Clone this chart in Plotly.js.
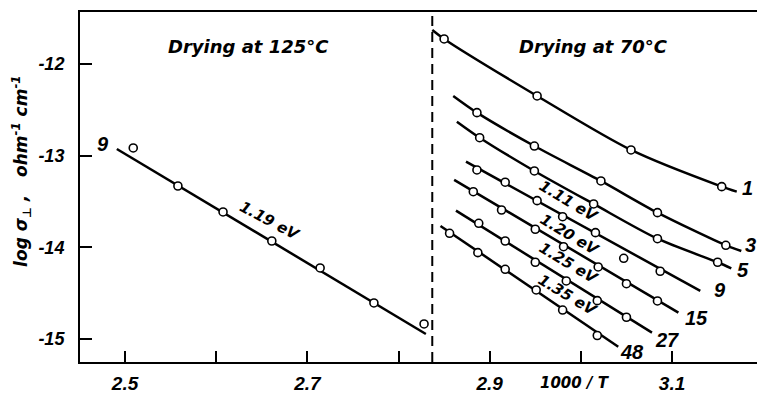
<!DOCTYPE html>
<html>
<head>
<meta charset="utf-8">
<script src="https://cdn.plot.ly/plotly-3.0.1.min.js"></script>
<style>html,body{margin:0;padding:0;background:#fff;}#chart{width:757px;height:394px;}</style>
</head>
<body>
<div id="chart"></div>
<script>
// ---- Data ----
// Drying at 125 °C, sample 9
const d125_line_x = [2.491, 2.830];
const d125_line_y = [-12.927, -14.945];
const d125_pts_x = [2.509, 2.558, 2.6075, 2.661, 2.714, 2.773, 2.828];
const d125_pts_y = [-12.916, -13.331, -13.614, -13.931, -14.225, -14.607, -14.836];

// Drying at 70 °C : fitted curves
const c1_x = [2.837, 2.850, 2.952, 3.055, 3.1545, 3.171];
const c1_y = [-11.629, -11.727, -12.349, -12.938, -13.338, -13.393];
const c3_x = [2.860, 2.886, 2.949, 3.022, 3.084, 3.159, 3.176];
const c3_y = [-12.349, -12.531, -12.895, -13.276, -13.622, -13.978, -14.040];
const c5_x = [2.864, 2.889, 2.949, 3.014, 3.084, 3.150, 3.165];
const c5_y = [-12.629, -12.804, -13.167, -13.527, -13.906, -14.163, -14.229];
const c9_x = [2.874, 3.131];
const c9_y = [-13.066, -14.476];
const c15_x = [2.861, 3.107];
const c15_y = [-13.265, -14.713];
const c27_x = [2.863, 3.078];
const c27_y = [-13.600, -14.931];
const c48_x = [2.846, 3.041];
const c48_y = [-13.767, -15.084];

// Drying at 70 °C : measured points
const p1_x = [2.850, 2.952, 3.055, 3.1545];
const p1_y = [-11.727, -12.349, -12.938, -13.338];
const p3_x = [2.886, 2.949, 3.022, 3.084, 3.159];
const p3_y = [-12.531, -12.895, -13.276, -13.622, -13.978];
const p5_x = [2.889, 2.949, 3.014, 3.084, 3.150];
const p5_y = [-12.804, -13.167, -13.527, -13.906, -14.163];
const p9_x = [2.886, 2.917, 2.952, 2.980, 3.016, 3.047, 3.087];
const p9_y = [-13.156, -13.290, -13.491, -13.666, -13.840, -14.120, -14.261];
const p15_x = [2.882, 2.913, 2.950, 2.981, 3.019, 3.050, 3.084];
const p15_y = [-13.393, -13.593, -13.803, -13.993, -14.214, -14.397, -14.585];
const p27_x = [2.888, 2.917, 2.950, 2.984, 3.018, 3.050];
const p27_y = [-13.738, -13.931, -14.163, -14.367, -14.582, -14.763];
const p48_x = [2.856, 2.887, 2.917, 2.951, 2.980, 3.018];
const p48_y = [-13.847, -14.058, -14.240, -14.465, -14.684, -14.962];

// curve labels (drying time numbers)
const curveLabels = ['1', '3', '5', '9', '15', '27', '48'];
const curveLabelX = [3.183, 3.186, 3.178, 3.153, 3.127, 3.095, 3.056];
const curveLabelY = [-13.353, -13.974, -14.247, -14.465, -14.771, -15.011, -15.138];

// activation energy labels
const eVLabels = ['1.11 eV', '1.20 eV', '1.25 eV', '1.35 eV'];
const eVX = [2.986, 2.988, 2.986, 2.985];
const eVY = [-13.494, -13.865, -14.171, -14.520];

const leftLabel = '9';
const leftLabelX = 2.476, leftLabelY = -12.873;
const leftEV = '1.19 eV';
const leftEVX = 2.659, leftEVY = -13.710;

const dividerX = 2.837;

const xTickVals = [2.5, 2.7, 2.9, 3.1];
const xTickText = ['2.5', '2.7', '2.9', '3.1'];
const xMinorVals = [2.6, 2.8, 3.0];
const yTickVals = [-12, -13, -14, -15];
const yTickText = ['-12', '-13', '-14', '-15'];

// ---- Styling ----
const LIB = 'Liberation Sans, Arial, sans-serif';
const DJV = 'DejaVu Sans, sans-serif';
const bi = (size, fam) => ({family: fam || LIB, size: size, color: '#000', weight: 'bold', style: 'italic'});

const lineStyle = {color: '#000', width: 2.5};
const markerStyle = {symbol: 'circle', size: 8, color: '#fff', line: {color: '#000', width: 1.6}};

const traces = [];
function addLine(x, y, spline) {
  traces.push({x: x, y: y, type: 'scatter', mode: 'lines',
    line: Object.assign({shape: spline ? 'spline' : 'linear', smoothing: 0.8}, lineStyle),
    hoverinfo: 'skip'});
}
function addPts(x, y) {
  traces.push({x: x, y: y, type: 'scatter', mode: 'markers', marker: markerStyle, hoverinfo: 'skip'});
}
addLine(d125_line_x, d125_line_y, false);
addLine(c1_x, c1_y, true);
addLine(c3_x, c3_y, true);
addLine(c5_x, c5_y, true);
addLine(c9_x, c9_y, false);
addLine(c15_x, c15_y, false);
addLine(c27_x, c27_y, false);
addLine(c48_x, c48_y, false);
addPts(d125_pts_x, d125_pts_y);
addPts(p1_x, p1_y);
addPts(p3_x, p3_y);
addPts(p5_x, p5_y);
addPts(p9_x, p9_y);
addPts(p15_x, p15_y);
addPts(p27_x, p27_y);
addPts(p48_x, p48_y);

const annotations = [];
curveLabels.forEach((t, i) => annotations.push({
  x: curveLabelX[i], y: curveLabelY[i], xref: 'x', yref: 'y', text: t,
  showarrow: false, font: bi(20), xanchor: 'center', yanchor: 'middle'}));
eVLabels.forEach((t, i) => annotations.push({
  x: eVX[i], y: eVY[i], xref: 'x', yref: 'y', text: t, textangle: 31,
  showarrow: false, font: bi(15, DJV), xanchor: 'center', yanchor: 'middle'}));
annotations.push({x: leftLabelX, y: leftLabelY, xref: 'x', yref: 'y', text: leftLabel,
  showarrow: false, font: bi(20)});
annotations.push({x: leftEVX, y: leftEVY, xref: 'x', yref: 'y', text: leftEV, textangle: 28,
  showarrow: false, font: bi(15, DJV)});
annotations.push({x: 0.2496, y: 0.9, xref: 'paper', yref: 'paper', text: 'Drying at 125°C',
  showarrow: false, font: bi(18, DJV), xanchor: 'center', yanchor: 'middle'});
annotations.push({x: 0.7592, y: 0.9, xref: 'paper', yref: 'paper', text: 'Drying at 70°C',
  showarrow: false, font: bi(18, DJV), xanchor: 'center', yanchor: 'middle'});
annotations.push({x: -0.0857, y: 0.546, xref: 'paper', yref: 'paper',
  text: 'log σ<sub>⊥</sub> ,   ohm<sup>-1</sup> cm<sup>-1</sup>', textangle: -90,
  showarrow: false, font: bi(17, DJV), xanchor: 'center', yanchor: 'middle'});
annotations.push({x: 0.7312, y: -0.060, xref: 'paper', yref: 'paper', text: '1000 / T',
  showarrow: false, font: bi(15, DJV), xanchor: 'center', yanchor: 'middle'});

const layout = {
  width: 757, height: 394,
  margin: {l: 80, r: 0, t: 12, b: 32, pad: 0},
  paper_bgcolor: '#fff', plot_bgcolor: '#fff',
  showlegend: false,
  xaxis: {
    range: [2.4506, 3.1932], tickvals: xTickVals, ticktext: xTickText,
    ticks: 'inside', ticklen: 11, tickwidth: 2, tickcolor: '#000',
    minor: {tickvals: xMinorVals, ticks: 'inside', ticklen: 11, tickwidth: 2, tickcolor: '#000', showgrid: false},
    showline: true, linewidth: 2, linecolor: '#000', mirror: true,
    showgrid: false, zeroline: false, tickfont: bi(19), ticklabelstandoff: 3
  },
  yaxis: {
    range: [-15.251, -11.433], tickvals: yTickVals, ticktext: yTickText,
    ticks: 'inside', ticklen: 12, tickwidth: 2, tickcolor: '#000',
    showline: true, linewidth: 2, linecolor: '#000', mirror: false,
    showgrid: false, zeroline: false, tickfont: bi(18), ticklabelstandoff: 10
  },
  shapes: [{type: 'line', xref: 'x', yref: 'paper', x0: dividerX, x1: dividerX, y0: 0, y1: 1,
    line: {color: '#000', width: 2, dash: '10px,6px'}}],
  annotations: annotations
};

Plotly.newPlot('chart', traces, layout, {staticPlot: true, displayModeBar: false});
</script>
</body>
</html>
